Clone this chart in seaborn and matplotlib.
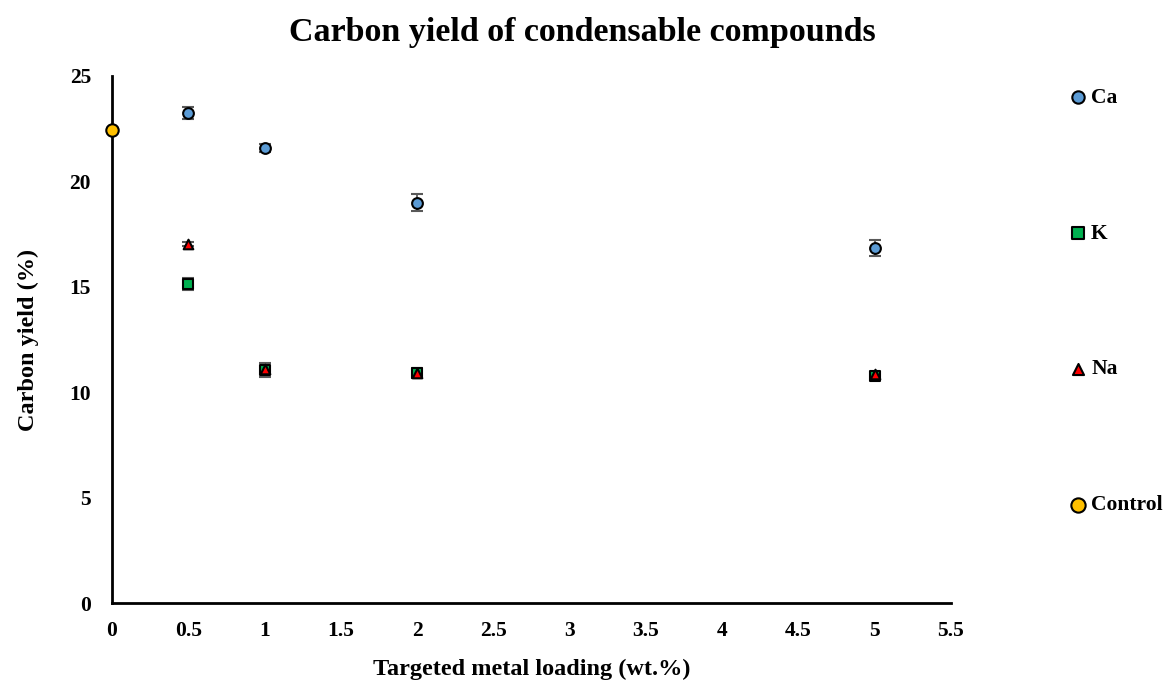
import numpy as np
import pandas as pd
import matplotlib
matplotlib.use("Agg")
import matplotlib.pyplot as plt
import seaborn as sns

# Targeted metal loading (wt.%) and carbon yield (%) with standard deviations
loading = [0.5, 1, 2, 5]
ca_yield = [23.25, 21.58, 18.98, 16.84]
ca_err = [0.30, 0.20, 0.40, 0.40]
k_yield = [15.13, 11.05, 10.91, 10.77]
k_err = [0.30, 0.35, 0.25, 0.20]
na_yield = [17.03, 11.12, 10.91, 10.85]
na_err = [0.10, 0.12, 0.10, 0.10]
control_loading = [0]
control_yield = [22.45]
control_err = [0.0]

series = ["Ca", "K", "Na", "Control"]
colors = {"Ca": "#5B9BD5", "K": "#00B050", "Na": "#FF0000", "Control": "#FFC000"}
markers = {"Ca": "o", "K": "s", "Na": "^", "Control": "o"}

df = pd.concat([
    pd.DataFrame({"loading": loading, "yield": ca_yield, "err": ca_err, "metal": "Ca"}),
    pd.DataFrame({"loading": loading, "yield": k_yield, "err": k_err, "metal": "K"}),
    pd.DataFrame({"loading": loading, "yield": na_yield, "err": na_err, "metal": "Na"}),
    pd.DataFrame({"loading": control_loading, "yield": control_yield, "err": control_err, "metal": "Control"}),
], ignore_index=True)

sns.set_theme(style="white")
plt.rcParams["font.family"] = ["Liberation Serif", "DejaVu Serif"]
plt.rcParams["font.weight"] = "bold"
for key in ["text.color", "axes.labelcolor", "xtick.color", "ytick.color"]:
    plt.rcParams[key] = "black"

fig = plt.figure(figsize=(11.65, 6.82), dpi=100)
ax = fig.add_axes([0.0961, 0.1158, 0.7202, 0.7728])

# error bars behind the markers
for m in series:
    sub = df[df["metal"] == m]
    if (sub["err"] > 0).any():
        ax.errorbar(sub["loading"], sub["yield"], yerr=sub["err"], fmt="none",
                    ecolor="#595959", elinewidth=1.3, capsize=4.5, capthick=1.5, zorder=2)

sizes = {"Ca": 60, "K": 62, "Na": 48, "Control": 80}
for m in series:
    sub = df[df["metal"] == m]
    sns.scatterplot(data=sub, x="loading", y="yield", ax=ax, color=colors[m],
                    marker=markers[m], s=sizes[m], edgecolor="black", linewidth=1.5,
                    label=m, zorder=3, clip_on=False)

ax.set_xlim(0, 5.5)
ax.set_ylim(0, 25)
ax.set_xticks(np.arange(0, 5.51, 0.5))
ax.set_xticklabels(["0", "0.5", "1", "1.5", "2", "2.5", "3", "3.5", "4", "4.5", "5", "5.5"])
ax.set_yticks([0, 5, 10, 15, 20, 25])
ax.tick_params(axis="x", direction="out", length=5, width=1.5, color="black",
               labelsize=15.5, pad=8)
ax.tick_params(axis="y", length=0, labelsize=15.5, pad=15)
for lab in ax.get_xticklabels() + ax.get_yticklabels():
    lab.set_fontweight("bold")

for side in ["top", "right"]:
    ax.spines[side].set_visible(False)
for side in ["left", "bottom"]:
    ax.spines[side].set_color("black")
    ax.spines[side].set_linewidth(2)

ax.set_xlabel("Targeted metal loading (wt.%)", fontsize=17.5, fontweight="bold", labelpad=13)
ax.set_ylabel("Carbon yield (%)", fontsize=17.5, fontweight="bold", labelpad=22)
fig.suptitle("Carbon yield of condensable compounds", fontsize=24.5, fontweight="bold",
             x=0.5, y=0.975)

leg = ax.legend(loc="upper left", bbox_to_anchor=(0.8996, 0.900), bbox_transform=fig.transFigure,
                frameon=False, labelspacing=5.38, handletextpad=0.1, handlelength=1.0,
                markerscale=1.15,
                prop={"family": "Liberation Serif", "weight": "bold", "size": 15.5})

fig.savefig("out.png", dpi=100)
